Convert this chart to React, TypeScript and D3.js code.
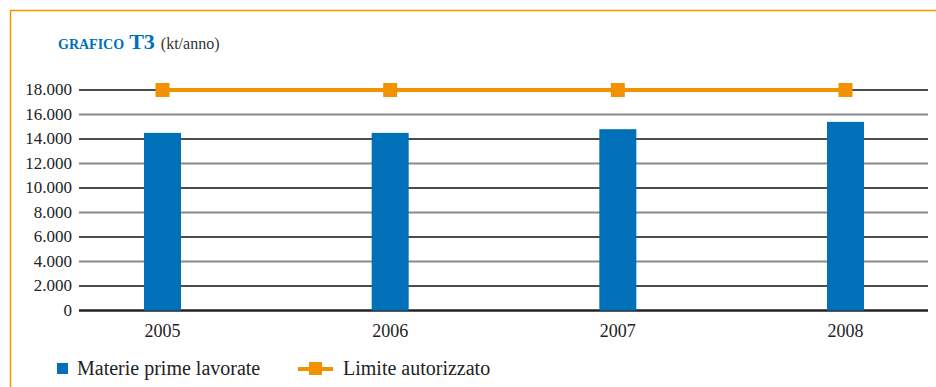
import React from "react";
import * as d3 from "d3";

const years = ["2005", "2006", "2007", "2008"];
const materiePrime = [14500, 14500, 14800, 15400];
const limite = [18000, 18000, 18000, 18000];
const yTicks = [0, 2000, 4000, 6000, 8000, 10000, 12000, 14000, 16000, 18000];

const W = 936;
const H = 387;
const BLUE = "#0070b8";
const ORANGE = "#f39200";
const FONT = "'Liberation Serif', 'DejaVu Serif', serif";

export default function App() {
  const x = d3.scalePoint<string>().domain(years).range([162.5, 845.5]);
  const y = d3.scaleLinear().domain([0, 18000]).range([310.5, 90]);
  const barW = 37;
  const fmt = (v: number) => (v === 0 ? "0" : d3.format(",")(v).replace(/,/g, "."));
  const line = d3
    .line<number>()
    .x((_, i) => x(years[i]) as number)
    .y((d) => y(d));

  return (
    <svg width={W} height={H} style={{ position: "absolute", left: 0, top: 0 }}>
      <rect x={0} y={0} width={W} height={H} fill="#fff" />
      <path d={`M10.5,${H} V10.5 H${W}`} fill="none" stroke={ORANGE} strokeWidth={1.5} />
      <text x={58} y={49} fontFamily={FONT} fill={BLUE} fontWeight="bold">
        <tspan fontSize={14}>GRAFICO</tspan>
        <tspan fontSize={22} dx={5}>T3</tspan>
        <tspan fontSize={16} fontWeight="normal" fill="#333" dx={6}>(kt/anno)</tspan>
      </text>
      {yTicks.map((t, i) => (
        <g key={t}>
          <line
            x1={79}
            x2={928}
            y1={y(t)}
            y2={y(t)}
            stroke={t === 0 ? "#222" : i % 2 === 1 ? "#111" : "#888"}
            strokeWidth={t === 0 ? 2.5 : i % 2 === 1 ? 1.3 : 2}
          />
          <text
            x={72}
            y={y(t) + 5}
            textAnchor="end"
            fontFamily={FONT}
            fontSize={17}
            fill="#222"
          >
            {fmt(t)}
          </text>
        </g>
      ))}
      {materiePrime.map((v, i) => (
        <rect
          key={years[i]}
          x={(x(years[i]) as number) - barW / 2}
          y={y(v)}
          width={barW}
          height={y(0) - y(v)}
          fill={BLUE}
        />
      ))}
      <path d={line(limite) as string} fill="none" stroke={ORANGE} strokeWidth={4} />
      {limite.map((v, i) => (
        <rect
          key={"m" + years[i]}
          x={(x(years[i]) as number) - 7}
          y={y(v) - 7}
          width={14}
          height={14}
          fill={ORANGE}
        />
      ))}
      {years.map((yr) => (
        <text
          key={"l" + yr}
          x={x(yr) as number}
          y={337}
          textAnchor="middle"
          fontFamily={FONT}
          fontSize={18}
          fill="#222"
        >
          {yr}
        </text>
      ))}
      <rect x={57} y={363} width={11} height={11} fill={BLUE} />
      <text x={77} y={375} fontFamily={FONT} fontSize={20} fill="#222">
        Materie prime lavorate
      </text>
      <line x1={298} x2={333} y1={369} y2={369} stroke={ORANGE} strokeWidth={4} />
      <rect x={309} y={362} width={13} height={13} fill={ORANGE} />
      <text x={343} y={375} fontFamily={FONT} fontSize={20} fill="#222">
        Limite autorizzato
      </text>
    </svg>
  );
}
